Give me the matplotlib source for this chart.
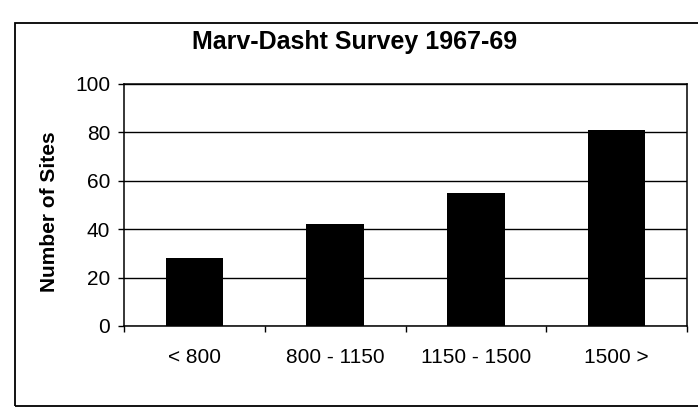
import numpy as np
import matplotlib.pyplot as plt
from matplotlib.patches import Rectangle

plt.rcParams['font.family'] = ['Liberation Sans', 'DejaVu Sans']

categories = ['< 800', '800 - 1150', '1150 - 1500', '1500 >']
sites = [28, 42, 55, 81]
yticks = [0, 20, 40, 60, 80, 100]

fig = plt.figure(figsize=(6.98, 4.11), dpi=100)
ax = fig.add_axes([0.178, 0.207, 0.806, 0.589])

x = np.arange(len(categories))
ax.bar(x, sites, width=0.41, color='black', zorder=3)

ax.set_xlim(-0.5, len(categories) - 0.5)
ax.set_ylim(0, 100)
ax.set_yticks(yticks)
ax.set_yticklabels([str(t) for t in yticks], fontsize=15)
ax.yaxis.grid(True, color='black', linewidth=1.0, zorder=0)

# category labels centred under the bars, ticks between categories
ax.set_xticks(x)
ax.set_xticklabels(categories, fontsize=15)
ax.tick_params(axis='x', length=0, pad=16)
ax.set_xticks(np.arange(len(categories) + 1) - 0.5, minor=True)
ax.tick_params(axis='x', which='minor', length=4, width=1.0, direction='out')
ax.tick_params(axis='y', length=4, width=1.0, direction='out', pad=6)

for s in ax.spines.values():
    s.set_linewidth(1.1)
    s.set_color('black')

ax.set_ylabel('Number of Sites', fontsize=15, fontweight='bold', labelpad=12, y=0.47)
fig.text(0.508, 0.897, 'Marv-Dasht Survey 1967-69', ha='center', va='center',
         fontsize=18, fontweight='bold')

# outer chart frame (right edge runs off the scan)
frame = Rectangle((0.021, 0.012), 1.2, 0.933, transform=fig.transFigure,
                  fill=False, edgecolor='black', linewidth=1.3)
fig.patches.append(frame)

fig.savefig('out.png', dpi=100)
